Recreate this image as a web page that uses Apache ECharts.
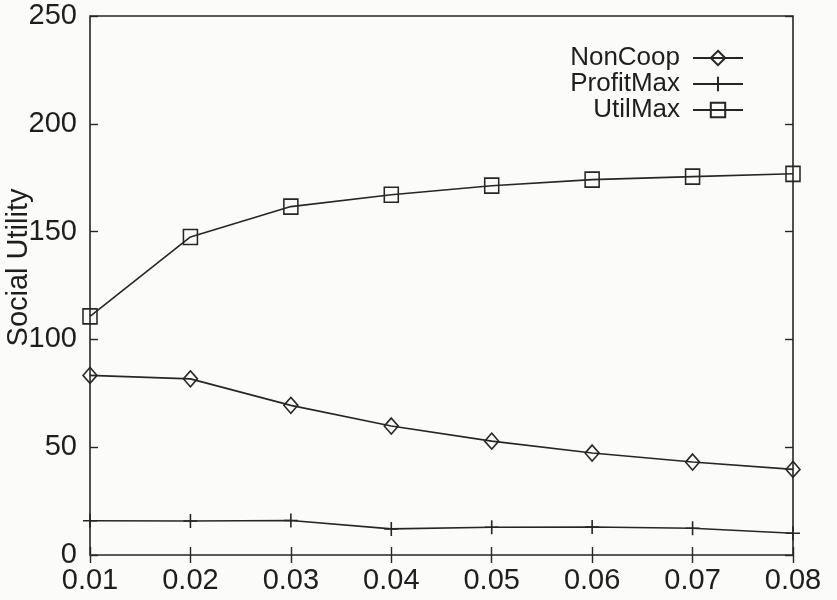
<!DOCTYPE html>
<html>
<head>
<meta charset="utf-8">
<script src="https://cdn.jsdelivr.net/npm/echarts@6/dist/echarts.min.js"></script>
<style>
  html, body { margin: 0; padding: 0; background: #fbfbfa; }
  #chart { width: 837px; height: 600px; }
</style>
</head>
<body>
<div id="chart"></div>
<script>
// Horizontal axis values
const xCategories = ['0.01', '0.02', '0.03', '0.04', '0.05', '0.06', '0.07', '0.08'];

// Social utility for each strategy
const nonCoop   = [83.3, 81.7, 69.4, 59.8, 52.8, 47.3, 43.1, 39.7];
const profitMax = [15.9, 15.8, 16.0, 12.1, 12.9, 13.0, 12.4, 10.1];
const utilMax   = [110.7, 147.5, 161.6, 167.1, 171.3, 174.1, 175.5, 176.8];

// Vertical axis range
const yMin = 0;
const yMax = 250;
const yStep = 50;

const ink = '#262626';
const font = 'Liberation Sans, Arial, Helvetica, sans-serif';
const plusPath = 'path://M5,0 L5,10 M0,5 L10,5';

function lineSeries(name, data, symbol, size) {
  return {
    name: name,
    type: 'line',
    data: data,
    symbol: symbol,
    symbolSize: size,
    showAllSymbol: true,
    animation: false,
    lineStyle: { color: ink, width: 1.6 },
    itemStyle: { color: 'transparent', borderColor: ink, borderWidth: 1.6 },
    emphasis: { disabled: true }
  };
}

const chart = echarts.init(document.getElementById('chart'), null, { renderer: 'canvas' });

const tickCommon = { show: true, inside: true, length: 8, lineStyle: { color: ink, width: 1.4 } };

chart.setOption({
  backgroundColor: '#fbfbfa',
  animation: false,
  grid: {
    left: 90, right: 44, top: 16, bottom: 45,
    outerBoundsMode: 'none',
    containLabel: false,
    show: true, borderColor: ink, borderWidth: 1.6, backgroundColor: 'transparent'
  },
  legend: {
    orient: 'vertical',
    right: 88,
    top: 40,
    align: 'right',
    itemWidth: 50,
    itemHeight: 18,
    itemGap: 0,
    selectedMode: false,
    textStyle: { fontFamily: font, fontSize: 26, color: '#1e1e1e', padding: [0, 8, 0, 0] },
    data: ['NonCoop', 'ProfitMax', 'UtilMax']
  },
  xAxis: [
    {
      type: 'category',
      data: xCategories,
      boundaryGap: false,
      position: 'bottom',
      axisLine: { show: false },
      axisTick: Object.assign({ alignWithLabel: true }, tickCommon),
      axisLabel: { fontFamily: font, fontSize: 29, color: '#1e1e1e', margin: 11, interval: 0 },
      splitLine: { show: false }
    },
    {
      type: 'category',
      data: xCategories,
      boundaryGap: false,
      position: 'top',
      axisLine: { show: false },
      axisTick: tickCommon,
      axisLabel: { show: false },
      splitLine: { show: false }
    }
  ],
  yAxis: [
    {
      type: 'value',
      min: yMin,
      max: yMax,
      interval: yStep,
      position: 'left',
      name: 'Social Utility',
      nameLocation: 'middle',
      nameRotate: 90,
      nameGap: 57,
      nameMoveOverlap: false,
      nameTextStyle: { fontFamily: font, fontSize: 29, color: '#1e1e1e', padding: [0, 0, 0, 36] },
      axisLine: { show: false },
      axisTick: tickCommon,
      axisLabel: { fontFamily: font, fontSize: 29, color: '#1e1e1e', margin: 13 },
      splitLine: { show: false }
    },
    {
      type: 'value',
      min: yMin,
      max: yMax,
      interval: yStep,
      position: 'right',
      axisLine: { show: false },
      axisTick: tickCommon,
      axisLabel: { show: false },
      splitLine: { show: false }
    }
  ],
  series: [
    lineSeries('NonCoop', nonCoop, 'diamond', [14, 16]),
    lineSeries('ProfitMax', profitMax, plusPath, [14, 14]),
    lineSeries('UtilMax', utilMax, 'rect', [14, 15])
  ]
});
</script>
</body>
</html>
